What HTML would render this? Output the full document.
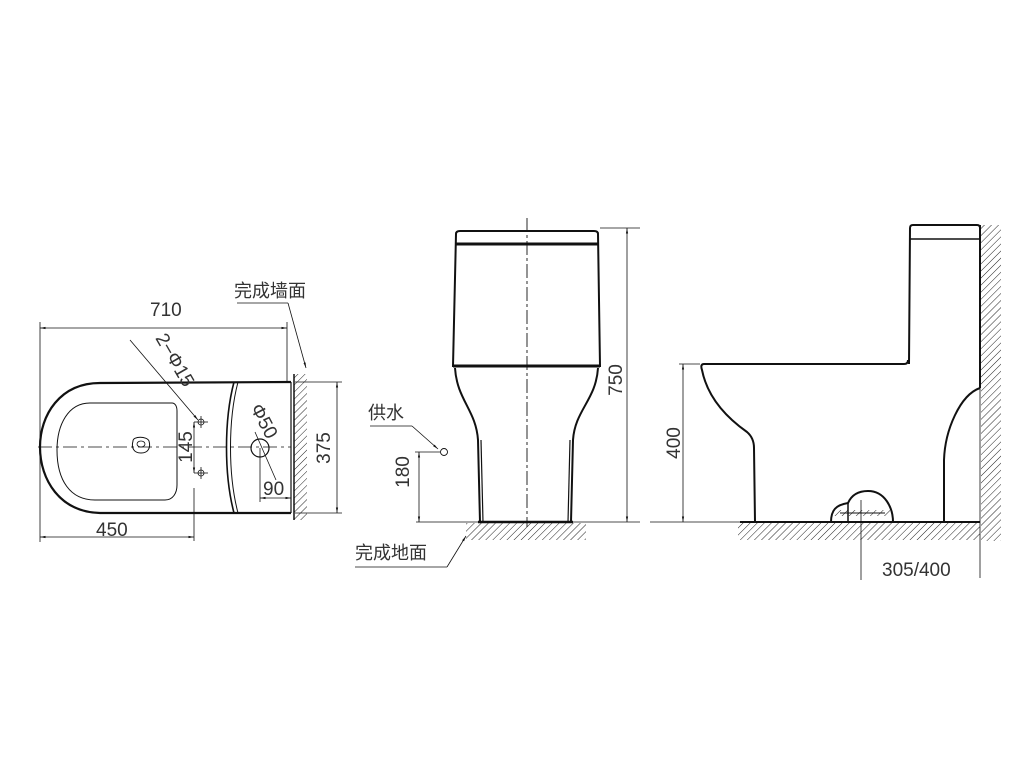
<!DOCTYPE html>
<html><head><meta charset="utf-8"><style>
html,body{margin:0;padding:0;background:#fff;}
svg{display:block;}
text{font-family:"Liberation Sans","Noto Sans CJK SC",sans-serif;fill:#333;}
</style></head><body>
<svg width="1024" height="768" viewBox="0 0 1024 768" xmlns="http://www.w3.org/2000/svg">
<defs>
<pattern id="h" width="5" height="5" patternUnits="userSpaceOnUse" patternTransform="rotate(45)">
<line x1="0" y1="0" x2="0" y2="5" stroke="#222" stroke-width="1"/>
</pattern>
<marker id="a" viewBox="0 0 10 10" refX="10" refY="5" markerWidth="7" markerHeight="7" orient="auto-start-reverse"><path d="M0,3 L10,5 L0,7z" fill="#111"/></marker>
</defs>
<g fill="none" stroke="#111">
<!-- ===== TOP VIEW ===== -->
<line x1="40" y1="322" x2="40" y2="542" stroke-width="0.8"/>
<line x1="287" y1="322" x2="287" y2="382" stroke-width="0.8"/>
<line x1="40" y1="328" x2="287" y2="328" stroke-width="0.8" marker-start="url(#a)" marker-end="url(#a)"/>
<line x1="237" y1="303" x2="288" y2="303" stroke-width="0.8"/>
<line x1="288" y1="303" x2="306" y2="368" stroke-width="0.8" marker-end="url(#a)"/>
<rect x="294" y="374" width="13" height="146" fill="url(#h)" stroke="none"/>
<line x1="294" y1="374" x2="294" y2="520" stroke-width="1.5"/>
<path d="M291,382 L100,383 C60,383 40,415 40,447 C40,480 60,512 100,513 L291,513" stroke-width="2.2"/>
<line x1="291" y1="382" x2="291" y2="513" stroke-width="1.2"/>
<path d="M172,403 L90,403 C68,403 57,425 57,450 C57,480 70,500 95,500 L165,500 C173,500 177,493 177,485 L177,411 C177,406 175,403 172,403Z" stroke-width="1"/>
<path d="M133,441 C133,436 147,436 149,441 C151,448 148,453 141,453 C134,453 131,448 133,441Z" stroke-width="1"/>
<ellipse cx="141" cy="444" rx="4" ry="3" stroke-width="0.8"/>
<path d="M234,382 C224,420 224,475 234,513" stroke-width="1.6"/>
<path d="M238,382 C228,420 228,475 238,513" stroke-width="1"/>
<line x1="38" y1="447" x2="291" y2="447" stroke-width="0.8" stroke-dasharray="14,4,3,4"/>
<line x1="337" y1="382" x2="337" y2="513" stroke-width="0.8" marker-start="url(#a)" marker-end="url(#a)"/>
<line x1="295" y1="382" x2="342" y2="382" stroke-width="0.8"/>
<line x1="295" y1="513" x2="342" y2="513" stroke-width="0.8"/>
<line x1="194" y1="422" x2="208" y2="422" stroke-width="0.8"/><line x1="201" y1="416" x2="201" y2="428" stroke-width="0.8"/>
<circle cx="201" cy="422" r="3" stroke-width="0.8"/>
<line x1="194" y1="473" x2="208" y2="473" stroke-width="0.8"/><line x1="201" y1="467" x2="201" y2="479" stroke-width="0.8"/>
<circle cx="201" cy="473" r="3" stroke-width="0.8"/>
<line x1="194" y1="422" x2="194" y2="473" stroke-width="0.8" marker-start="url(#a)" marker-end="url(#a)"/>
<line x1="194" y1="488" x2="194" y2="541" stroke-width="0.8"/>
<line x1="130" y1="340" x2="198" y2="420" stroke-width="0.8" marker-end="url(#a)"/>
<circle cx="260" cy="448" r="9" stroke-width="1.2"/>
<line x1="255" y1="432" x2="276" y2="480" stroke-width="0.8"/>
<line x1="260" y1="448" x2="260" y2="502" stroke-width="0.8"/>
<line x1="260" y1="498" x2="291" y2="498" stroke-width="0.8" marker-start="url(#a)" marker-end="url(#a)"/>
<line x1="40" y1="537" x2="194" y2="537" stroke-width="0.8" marker-start="url(#a)" marker-end="url(#a)"/>

<!-- ===== FRONT VIEW ===== -->
<path d="M456,234 Q456,231 460,231 L594,231 Q598,231 598,234 L600,366 L453,366 Z" stroke-width="2"/>
<line x1="456" y1="244" x2="598" y2="244" stroke-width="3"/>
<line x1="453" y1="366" x2="600" y2="366" stroke-width="3"/>
<path d="M455,368 C457,400 476,410 478,440 L480,522" stroke-width="2"/>
<path d="M481,440 L483,522" stroke-width="1.2"/>
<path d="M598,368 C596,400 575,410 573,440 L571,522" stroke-width="2"/>
<path d="M570,440 L568,522" stroke-width="1.2"/>
<line x1="416" y1="522" x2="640" y2="522" stroke-width="0.8"/>
<line x1="478" y1="522" x2="573" y2="522" stroke-width="2.5"/>
<rect x="466" y="523" width="120" height="17" fill="url(#h)" stroke="none"/>
<line x1="527" y1="218" x2="527" y2="527" stroke-width="0.9" stroke-dasharray="14,3,3,3"/>
<line x1="600" y1="228" x2="640" y2="228" stroke-width="0.8"/>
<line x1="627" y1="228" x2="627" y2="522" stroke-width="0.8" marker-start="url(#a)" marker-end="url(#a)"/>
<line x1="370" y1="426" x2="412" y2="426" stroke-width="0.8"/>
<line x1="412" y1="426" x2="438" y2="449" stroke-width="0.8" marker-end="url(#a)"/>
<circle cx="444" cy="452" r="3.5" stroke-width="0.9"/>
<line x1="415" y1="452" x2="440" y2="452" stroke-width="0.8"/>
<line x1="419" y1="452" x2="419" y2="522" stroke-width="0.8" marker-start="url(#a)" marker-end="url(#a)"/>
<line x1="355" y1="567" x2="447" y2="567" stroke-width="0.8"/>
<line x1="447" y1="567" x2="466" y2="536" stroke-width="0.8" marker-end="url(#a)"/>

<!-- ===== SIDE VIEW ===== -->
<path d="M909,364 L910,228 Q910,225 913,225 L977,225 Q980,225 980,228" stroke-width="2"/>
<line x1="910" y1="239" x2="980" y2="239" stroke-width="1.5"/>
<line x1="980" y1="225" x2="980" y2="578" stroke-width="0.8"/>
<line x1="980" y1="225" x2="980" y2="388" stroke-width="2"/>
<rect x="981" y="225" width="20" height="316" fill="url(#h)" stroke="none"/>
<path d="M908,360 Q908,364 904,364 L704,364 Q700,364 702,370 C708,400 730,420 747,432 Q754,438 754,448 L755,522" stroke-width="2"/>
<path d="M980,388 C960,395 945,430 944,460 L944,522" stroke-width="2"/>
<line x1="740" y1="522" x2="980" y2="522" stroke-width="2"/>
<line x1="650" y1="522" x2="740" y2="522" stroke-width="0.8"/>
<rect x="738" y="523" width="242" height="17" fill="url(#h)" stroke="none"/>
<path d="M831,522 C831,510 836,505 848,503 C852,494 860,491 868,491 C885,491 893,508 893,522" stroke-width="2"/>
<rect x="834" y="510" width="56" height="6" fill="url(#h)" stroke="none"/>
<line x1="848" y1="503" x2="848" y2="522" stroke-width="1.5"/>
<line x1="840" y1="513" x2="885" y2="513" stroke-width="1"/>
<line x1="861" y1="500" x2="861" y2="580" stroke-width="0.8"/>
<line x1="683" y1="364" x2="683" y2="522" stroke-width="0.8" marker-start="url(#a)" marker-end="url(#a)"/>
<line x1="679" y1="364" x2="700" y2="364" stroke-width="0.8"/>
</g>
<g stroke="none">
<text x="234" y="297" font-size="18">完成墙面</text>
<text x="150" y="316" font-size="19">710</text>
<text x="96" y="536" font-size="19">450</text>
<text x="263" y="495" font-size="19">90</text>
<text transform="translate(330,448) rotate(-90)" font-size="19" text-anchor="middle">375</text>
<text transform="translate(192,447) rotate(-90)" font-size="19" text-anchor="middle">145</text>
<text transform="translate(155,338) rotate(60)" font-size="19">2−Φ15</text>
<text transform="translate(250,408) rotate(62)" font-size="19">Φ50</text>
<text transform="translate(622,380) rotate(-90)" font-size="19" text-anchor="middle">750</text>
<text transform="translate(409,472) rotate(-90)" font-size="19" text-anchor="middle">180</text>
<text x="368" y="419" font-size="18">供水</text>
<text x="355" y="559" font-size="18">完成地面</text>
<text transform="translate(680,443) rotate(-90)" font-size="19" text-anchor="middle">400</text>
<text x="882" y="576" font-size="19">305/400</text>
</g>
</svg>
</body></html>
